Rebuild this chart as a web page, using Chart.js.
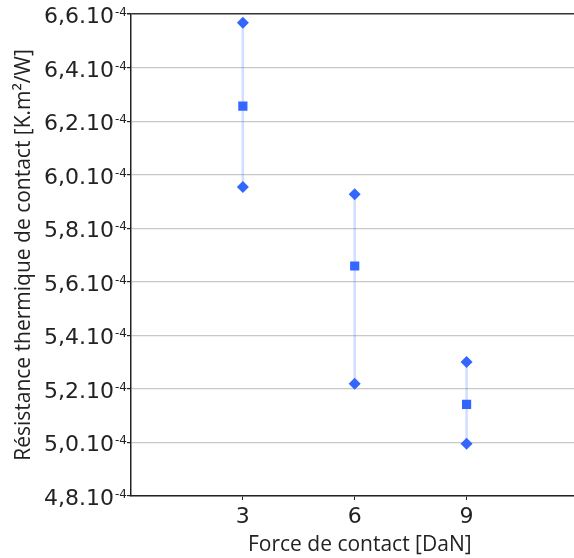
<!DOCTYPE html>
<html><head><meta charset="utf-8">
<script src="https://cdn.jsdelivr.net/npm/chart.js@4"></script>
<style>html,body{margin:0;padding:0;background:#fff;overflow:hidden}#wrap{width:574px;height:558px;overflow:hidden}</style>
</head><body><div id="wrap"><canvas id="c" width="595" height="558"></canvas></div>
<script>
const forces = [3, 6, 9];
const maxVals = [6.567e-4, 5.927e-4, 5.300e-4];
const meanVals = [6.256e-4, 5.659e-4, 5.142e-4];
const minVals = [5.954e-4, 5.219e-4, 4.995e-4];
const yTicks = [4.8e-4, 5.0e-4, 5.2e-4, 5.4e-4, 5.6e-4, 5.8e-4, 6.0e-4, 6.2e-4, 6.4e-4, 6.6e-4];
const yTickMantissas = ['4,8.10','5,0.10','5,2.10','5,4.10','5,6.10','5,8.10','6,0.10','6,2.10','6,4.10','6,6.10'];
const yTickExponent = '-4';
const xTicks = [3, 6, 9];
const xTitle = 'Force de contact [DaN]';
const yTitle = 'Résistance thermique de contact [K.m²/W]';

const blue = 'rgb(51,102,255)';
const rangePts = [];
forces.forEach((f,i)=>{ rangePts.push({x:f,y:minVals[i]},{x:f,y:maxVals[i]},{x:f,y:null}); });

const font = 'DejaVu Sans';
const tfont = 'Open Sans';

const yLabelPlugin = {
  id:'yLabels',
  afterDraw(chart){
    const ys = chart.scales.y, ctx = chart.ctx;
    ctx.save();
    ctx.fillStyle = '#222';
    ys.ticks.forEach((t,i)=>{
      const y = ys.getPixelForValue(t.value);
      const xr = ys.right - 17;
      ctx.font = '22px "DejaVu Sans"';
      ctx.textAlign = 'right'; ctx.textBaseline = 'alphabetic';
      ctx.fillText(yTickMantissas[i], xr, y + 9);
      ctx.font = '12px "DejaVu Sans"';
      ctx.textAlign = 'left';
      ctx.fillText(yTickExponent, xr + 1, y + 2);
    });
    ctx.restore();
  }
};

new Chart(document.getElementById('c'), {
  type: 'scatter',
  data: { datasets: [
    { type:'line', data: rangePts, borderColor:'rgba(51,102,255,0.22)', borderWidth:2.5, pointRadius:0, spanGaps:false, showLine:true, order:3 },
    { data: forces.map((f,i)=>({x:f,y:maxVals[i]})), pointStyle:'rectRot', pointRadius:6, backgroundColor:blue, borderColor:blue, borderWidth:0, order:1 },
    { data: forces.map((f,i)=>({x:f,y:minVals[i]})), pointStyle:'rectRot', pointRadius:6, backgroundColor:blue, borderColor:blue, borderWidth:0, order:1 },
    { data: forces.map((f,i)=>({x:f,y:meanVals[i]})), pointStyle:'rect', pointRadius:6.5, backgroundColor:blue, borderColor:blue, borderWidth:0, order:1 }
  ]},
  options: {
    responsive:false, animation:false, devicePixelRatio:1,
    layout:{ padding:{ top:14, right:0, left:0, bottom:0 } },
    plugins:{ legend:{display:false}, tooltip:{enabled:false} },
    scales:{
      x:{ type:'linear', min:0, max:12.27,
        afterBuildTicks:(s)=>{ s.ticks = xTicks.map(v=>({value:v})); },
        afterFit:(s)=>{ s.height = 62; },
        grid:{ display:true, drawOnChartArea:false, drawTicks:true, tickLength:4, color:'#222' },
        border:{ display:true, color:'#222', width:1.5 },
        ticks:{ color:'#222', font:{family:font, size:22}, padding:4, maxRotation:0, callback:(v)=>String(v) },
        title:{ display:true, text:xTitle, color:'#222', font:{family:tfont, size:21}, padding:{top:0,bottom:0} }
      },
      y:{ type:'linear', min:4.8e-4, max:6.6e-4,
        afterBuildTicks:(s)=>{ s.ticks = yTicks.map(v=>({value:v})); },
        afterFit:(s)=>{ s.width = 131; },
        grid:{ color:(c)=> (c.index===yTicks.length-1 ? '#333' : '#c8c8c8'), lineWidth:(c)=> (c.index===yTicks.length-1 ? 1.5 : 1.2), tickLength:4, tickColor:'#222' },
        border:{ display:true, color:'#222', width:1.5 },
        ticks:{ color:'rgba(0,0,0,0)', font:{family:font, size:12}, padding:3, callback:(v,i)=> yTickMantissas[i] + yTickExponent },
        title:{ display:true, text:yTitle, color:'#222', font:{family:tfont, size:21}, padding:{top:11,bottom:2} }
      }
    }
  },
  plugins:[yLabelPlugin]
});
</script></body></html>
